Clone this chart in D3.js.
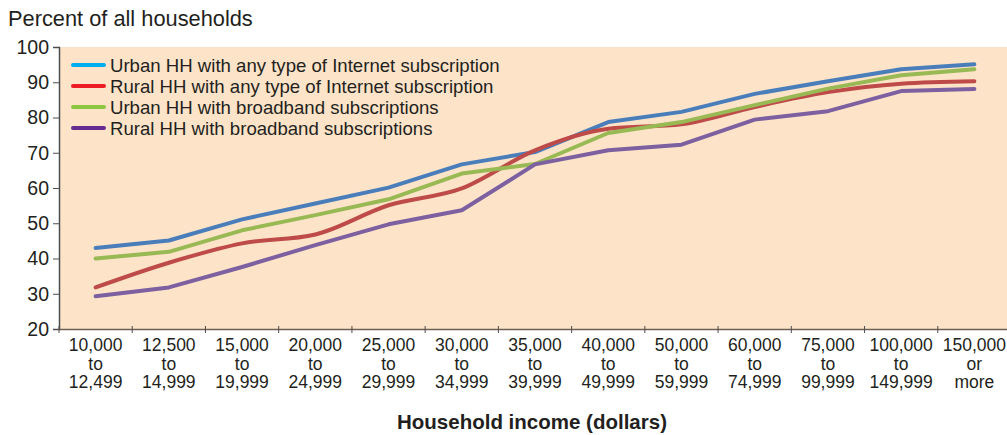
<!DOCTYPE html>
<html><head><meta charset="utf-8">
<script src="https://cdn.jsdelivr.net/npm/d3@7"></script>
<style>body{margin:0;background:#fff;}svg text{font-family:"Liberation Sans",Arial,Helvetica,sans-serif;fill:#231f20;}</style>
</head><body><svg id="c" width="1007" height="435"></svg>
<script>
const categories = [["10,000","to","12,499"],["12,500","to","14,999"],["15,000","to","19,999"],["20,000","to","24,999"],["25,000","to","29,999"],["30,000","to","34,999"],["35,000","to","39,999"],["40,000","to","49,999"],["50,000","to","59,999"],["60,000","to","74,999"],["75,000","to","99,999"],["100,000","to","149,999"],["150,000","or","more"]];
const urbanAny = [43.0,45.1,51.1,55.6,60.1,66.7,70.2,78.7,81.6,86.7,90.3,93.7,95.1];
const ruralAny = [31.8,38.8,44.3,46.8,55.1,59.9,70.7,76.8,78.1,83.0,87.2,89.6,90.3];
const urbanBroad = [40.0,41.9,48.0,52.3,56.8,64.1,66.8,75.6,78.7,83.5,88.2,92.0,93.7];
const ruralBroad = [29.3,31.8,37.6,43.8,49.7,53.7,66.7,70.7,72.3,79.4,81.8,87.5,88.1];
const yTicks = [20,30,40,50,60,70,80,90,100];
const seriesNames = ["Urban HH with any type of Internet subscription","Rural HH with any type of Internet subscription","Urban HH with broadband subscriptions","Rural HH with broadband subscriptions"];
const lineColors = ["#4a7ebb","#be4b48","#98b954","#7d60a0"];
const legendColors = ["#00aeef","#ed1c24","#8dc63f","#662d91"];

const svg = d3.select("#c");
const L = 59, R = 1011, T = 47, B = 329;
const x = d3.scaleBand().domain(d3.range(categories.length)).range([L, R]);
const y = d3.scaleLinear().domain([20,100]).range([B, T]);

svg.append("rect").attr("x",L).attr("y",T).attr("width",R-L).attr("height",B-T).attr("fill","#fde4c9");

svg.append("text").attr("x",8).attr("y",26).attr("font-size",21.8).text("Percent of all households");

// y axis
const ya = svg.append("g").attr("transform",`translate(${L},0)`).call(d3.axisLeft(y).tickValues(yTicks).tickSize(6).tickPadding(4));
ya.select(".domain").attr("stroke","#4d4d4d").attr("stroke-width",1.5);
ya.selectAll(".tick line").attr("stroke","#4d4d4d");
ya.selectAll(".tick text").attr("font-size",19.5).attr("fill","#231f20").attr("font-family","Liberation Sans, Arial, sans-serif");

// x axis
const xa = svg.append("g").attr("transform",`translate(0,${B})`).call(d3.axisBottom(x).tickSize(0).tickFormat(""));
xa.select(".domain").attr("stroke","#6d5f55").attr("stroke-width",1.5);
const bounds = d3.range(categories.length+1).map(i => L + i*x.step());
xa.selectAll(".bt").data(bounds).enter().append("line").attr("class","bt")
  .attr("x1",d=>d).attr("x2",d=>d).attr("y1",-3).attr("y2",4).attr("stroke","#4d4d4d");
const lab = svg.append("g");
categories.forEach((c,i)=>{
  const t = lab.append("text").attr("text-anchor","middle").attr("font-size",17.5)
    .attr("transform",`translate(${x(i)+x.bandwidth()/2},0)`);
  c.forEach((s,j)=> t.append("tspan").attr("x",0).attr("y",351+j*18.5).text(s));
});

svg.append("text").attr("x",532).attr("y",429).attr("text-anchor","middle").attr("font-size",20.5).attr("font-weight","bold").text("Household income (dollars)");

const all = [urbanAny, ruralAny, urbanBroad, ruralBroad];
const cx = i => x(i)+x.bandwidth()/2;
all.forEach((vals,k)=>{
  const line = d3.line().x((d,i)=>cx(i)).y(d=>y(d)).curve(k===1 ? d3.curveMonotoneX : d3.curveLinear);
  svg.append("path").datum(vals).attr("d",line).attr("fill","none").attr("stroke",lineColors[k]).attr("stroke-width",4).attr("stroke-linejoin","round").attr("stroke-linecap","round");
});

// legend
const lg = svg.append("g");
seriesNames.forEach((n,k)=>{
  const yy = 65 + k*21;
  lg.append("line").attr("x1",73).attr("x2",104).attr("y1",yy).attr("y2",yy).attr("stroke",legendColors[k]).attr("stroke-width",4).attr("stroke-linecap","round");
  lg.append("text").attr("x",110).attr("y",yy+6.5).attr("font-size",18.6).text(n);
});
</script></body></html>
